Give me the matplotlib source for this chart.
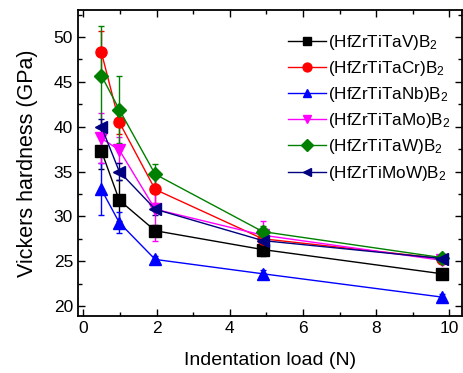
import numpy as np
import matplotlib
matplotlib.use("Agg")
import matplotlib.pyplot as plt
from matplotlib.ticker import MultipleLocator

plt.rcParams["font.family"] = ["Liberation Sans", "DejaVu Sans"]
plt.rcParams["mathtext.fontset"] = "custom"
plt.rcParams["mathtext.rm"] = "Liberation Sans"
plt.rcParams["mathtext.it"] = "Liberation Sans:italic"

#  DATA
load = [0.49, 0.98, 1.96, 4.9, 9.8]

labels = ["(HfZrTiTaV)B$_2$", "(HfZrTiTaCr)B$_2$", "(HfZrTiTaNb)B$_2$",
          "(HfZrTiTaMo)B$_2$", "(HfZrTiTaW)B$_2$", "(HfZrTiMoW)B$_2$"]

hv_v  = [37.3, 31.8, 28.4, 26.3, 23.6]
hv_cr = [48.3, 40.5, 33.0, 27.5, 25.3]
hv_nb = [33.0, 29.3, 25.2, 23.6, 21.0]
hv_mo = [38.7, 37.4, 30.8, 27.9, 25.1]
hv_w  = [45.7, 41.9, 34.7, 28.3, 25.4]
hv_mow = [40.0, 35.0, 30.8, 27.3, 25.3]

err_v  = [2.0, 2.3, 0.6, 0.7, 0.4]
err_cr = [2.4, 1.3, 1.5, 0.6, 0.4]
err_nb = [2.9, 1.2, 0.4, 0.4, 0.4]
err_mo = [2.8, 1.5, 3.5, 1.6, 0.4]
err_w  = [5.5, 3.7, 1.1, 0.6, 0.4]
err_mow = [0.9, 1.0, 0.6, 0.7, 0.4]

hardness = [hv_v, hv_cr, hv_nb, hv_mo, hv_w, hv_mow]
errors = [err_v, err_cr, err_nb, err_mo, err_w, err_mow]
colors = ["black", "red", "blue", "magenta", "green", "navy"]
markers = ["s", "o", "^", "v", "D", "<"]

#  PLOT
fig = plt.figure(figsize=(4.64, 3.73), dpi=100)
ax = fig.add_axes([0.168, 0.153, 0.828, 0.820])

for hv, err, c, m, lab in zip(hardness, errors, colors, markers, labels):
    ax.errorbar(load, hv, yerr=err, color=c, marker=m, markersize=8 if m != "D" else 7.5,
                linewidth=1.0, elinewidth=1.0, capsize=2.5, capthick=1.0, label=lab)

ax.set_xlim(-0.15, 10.35)
ax.set_ylim(18.9, 53)
ax.xaxis.set_major_locator(MultipleLocator(2))
ax.xaxis.set_minor_locator(MultipleLocator(1))
ax.yaxis.set_major_locator(MultipleLocator(5))
ax.yaxis.set_minor_locator(MultipleLocator(2.5))
ax.tick_params(which="both", direction="in", top=True, right=True, labelsize=12.5, width=1.0)
ax.tick_params(which="major", length=5)
ax.tick_params(which="minor", length=3)
for s in ax.spines.values():
    s.set_linewidth(1.3)

ax.set_xlabel("Indentation load (N)", fontsize=14, labelpad=12)
ax.set_ylabel("Vickers hardness (GPa)", fontsize=15.5)
ax.yaxis.set_label_coords(-0.105, 0.5)

handles, labs = ax.get_legend_handles_labels()
handles = [h[0] for h in handles]
ax.legend(handles, labs, loc="upper right", frameon=False, fontsize=12.3,
          handlelength=2.2, handletextpad=0.1, labelspacing=0.42, markerscale=0.8,
          borderaxespad=0.3, bbox_to_anchor=(1.0, 0.965))

plt.savefig("out.png", dpi=100)
